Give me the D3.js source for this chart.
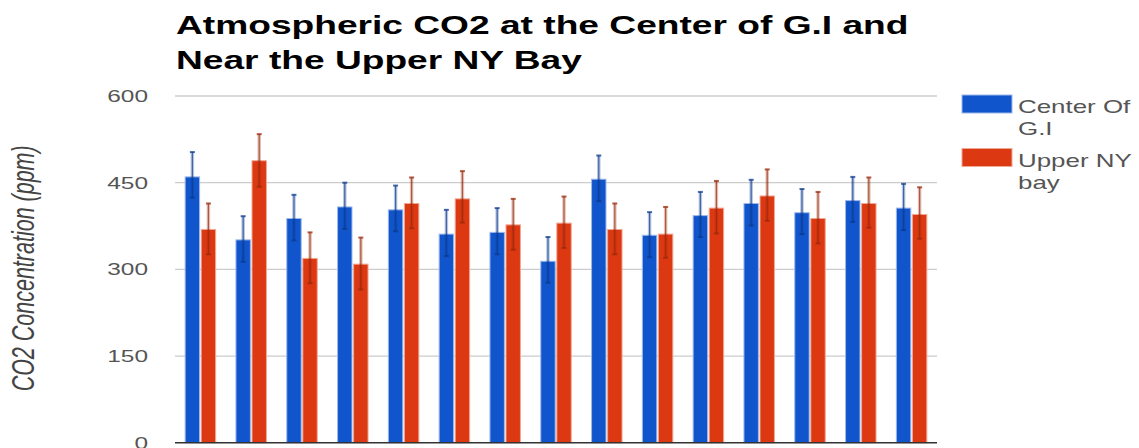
<!DOCTYPE html>
<html>
<head>
<meta charset="utf-8">
<script src="https://cdn.jsdelivr.net/npm/d3@7"></script>
<style>
  body { margin: 0; background: #fff; }
  text { font-family: Arial, "Liberation Sans", sans-serif; }
</style>
</head>
<body>
<svg id="chart"></svg>
<script>
// sampling sites (x labels are cropped off the bottom of the picture)
const sites = ['1', '2', '3', '4', '5', '6', '7', '8', '9', '10', '11', '12', '13', '14', '15'];
const seriesNames = ['Center Of G.I', 'Upper NY bay'];

// Center of G.I - bar value and error bar ends (ppm)
const centerValues = [460, 351, 388, 408, 403, 361, 364, 314, 456, 359, 393, 414, 398, 419, 406];
const centerLow    = [424, 313, 350, 370, 366, 323, 326, 277, 418, 321, 356, 376, 361, 382, 368];
const centerHigh   = [503, 392, 429, 450, 445, 403, 406, 356, 497, 399, 434, 455, 439, 460, 448];

// Upper NY bay
const bayValues = [369, 488, 319, 309, 414, 422, 377, 380, 369, 361, 406, 427, 388, 414, 395];
const bayLow    = [326, 443, 276, 265, 371, 381, 334, 337, 326, 320, 362, 384, 345, 372, 353];
const bayHigh   = [414, 534, 364, 355, 459, 470, 422, 426, 414, 408, 453, 473, 434, 459, 442];

const yTicks = [0, 150, 300, 450, 600];

const W = 1139, H = 448;
const sx = 1.44; // the picture is stretched sideways, text too

const svg = d3.select('#chart').attr('width', W).attr('height', H);

const plot = { left: 175, right: 937, top: 96, bottom: 442.7 };

const x0 = d3.scaleBand().domain(sites).range([plot.left, plot.right])
  .paddingInner(0.4).paddingOuter(0.2);
const x1 = d3.scaleBand().domain(seriesNames).range([0, x0.bandwidth()]).paddingInner(0.1);
const y = d3.scaleLinear().domain([0, 600]).range([plot.bottom, plot.top]);

const colors = { 'Center Of G.I': '#1155cc', 'Upper NY bay': '#dc3912' };
const errColors = { 'Center Of G.I': '#0c3a8f', 'Upper NY bay': '#9a2a0c' };
const edgeColors = { 'Center Of G.I': '#9db8ea', 'Upper NY bay': '#f0a894' };

// gridlines
svg.append('g')
  .selectAll('line')
  .data(yTicks.filter(d => d > 0))
  .join('line')
  .attr('x1', plot.left).attr('x2', plot.right)
  .attr('y1', d => y(d)).attr('y2', d => y(d))
  .attr('stroke', '#cccccc').attr('stroke-width', 1.3);

// y tick labels
svg.append('g')
  .selectAll('text')
  .data(yTicks)
  .join('text')
  .attr('transform', d => `translate(148, ${y(d) + 6}) scale(${sx}, 1)`)
  .attr('text-anchor', 'end')
  .attr('fill', '#555')
  .style('font-size', '17px')
  .text(d => d);

// rows of data
const rows = sites.map((s, i) => ({
  site: s,
  values: [
    { key: 'Center Of G.I', v: centerValues[i], lo: centerLow[i], hi: centerHigh[i] },
    { key: 'Upper NY bay', v: bayValues[i], lo: bayLow[i], hi: bayHigh[i] }
  ]
}));

const groups = svg.append('g')
  .selectAll('g')
  .data(rows)
  .join('g')
  .attr('transform', d => `translate(${x0(d.site)}, 0)`);

// bars
groups.selectAll('rect')
  .data(d => d.values)
  .join('rect')
  .attr('x', d => x1(d.key))
  .attr('y', d => y(d.v))
  .attr('width', x1.bandwidth())
  .attr('height', d => y(0) - y(d.v))
  .attr('fill', d => colors[d.key])
  .attr('stroke', d => edgeColors[d.key])
  .attr('stroke-width', 1);

// error bars
const err = groups.selectAll('g.err')
  .data(d => d.values)
  .join('g')
  .attr('class', 'err')
  .attr('transform', d => `translate(${x1(d.key) + x1.bandwidth() / 2}, 0)`);

err.append('line')
  .attr('y1', d => y(d.lo)).attr('y2', d => y(d.hi))
  .attr('stroke', d => errColors[d.key])
  .attr('stroke-opacity', 0.3)
  .attr('stroke-width', 3.5);

err.append('line')
  .attr('y1', d => y(d.lo)).attr('y2', d => y(d.hi))
  .attr('stroke', d => errColors[d.key])
  .attr('stroke-opacity', 0.7)
  .attr('stroke-width', 1.2);

err.selectAll('line.cap')
  .data(d => [{ key: d.key, v: d.hi }, { key: d.key, v: d.lo }])
  .join('line')
  .attr('class', 'cap')
  .attr('x1', -2.5).attr('x2', 2.5)
  .attr('y1', d => y(d.v)).attr('y2', d => y(d.v))
  .attr('stroke', d => errColors[d.key])
  .attr('stroke-opacity', 0.75)
  .attr('stroke-width', 2);

// baseline
svg.append('line')
  .attr('x1', plot.left).attr('x2', plot.right)
  .attr('y1', y(0)).attr('y2', y(0))
  .attr('stroke', '#333').attr('stroke-width', 1.5);

// title
const title = ['Atmospheric CO2 at the Center of G.I and', 'Near the Upper NY Bay'];
svg.append('g')
  .selectAll('text')
  .data(title)
  .join('text')
  .attr('transform', (d, i) => `translate(176, ${33.5 + i * 35}) scale(${sx}, 1)`)
  .attr('fill', '#000')
  .style('font-size', '25.8px')
  .style('font-weight', 'bold')
  .text(d => d);

// y axis title
svg.append('text')
  .attr('transform', `translate(34, ${(plot.top + plot.bottom) / 2 - 1}) scale(${sx}, 1) rotate(-90)`)
  .attr('text-anchor', 'middle')
  .attr('fill', '#444')
  .style('font-size', '21.5px')
  .style('font-style', 'italic')
  .text('CO2 Concentration (ppm)');

// legend
const legendLines = [['Center', 'Of', 'G.I'], ['Upper', 'NY', 'bay']];
const legend = svg.append('g');
seriesNames.forEach((name, i) => {
  const top = 95 + i * 53.5;
  legend.append('rect')
    .attr('x', 962).attr('y', top)
    .attr('width', 50).attr('height', 18)
    .attr('fill', colors[name])
    .attr('stroke', edgeColors[name]).attr('stroke-width', 1);
  const parts = legendLines[i];
  [parts[0] + ' ' + parts[1], parts[2]].forEach((t, j) => {
    legend.append('text')
      .attr('transform', `translate(1018, ${top + 18 + j * 22}) scale(${sx}, 1)`)
      .attr('fill', '#555')
      .style('font-size', '18px')
      .text(t);
  });
});
</script>
</body>
</html>
